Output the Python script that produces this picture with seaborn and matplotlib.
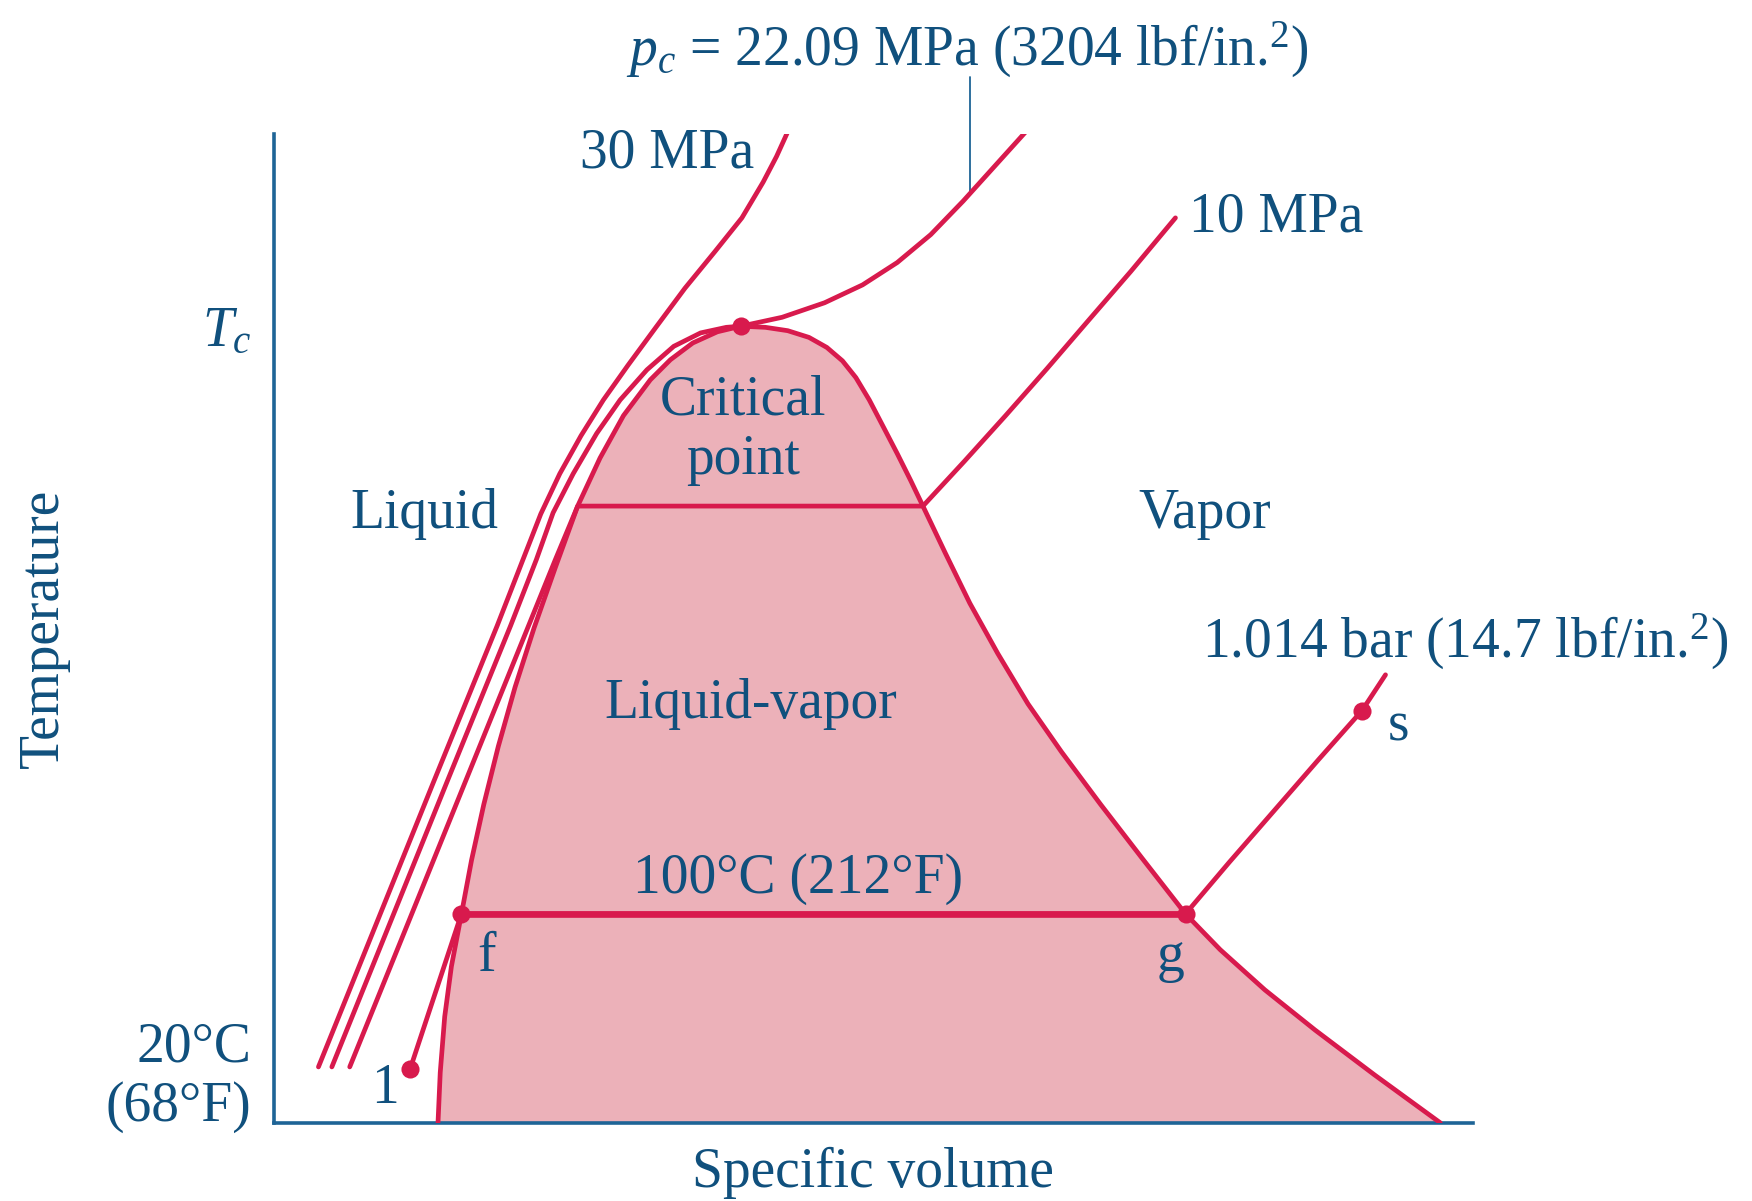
import matplotlib
matplotlib.use('Agg')
import matplotlib.pyplot as plt
import seaborn as sns
import pandas as pd

# schematic units: v = specific volume, T = temperature (no numeric scale on the axes)
# saturated liquid line (bottom -> critical point)
dome_liq_v = [147, 149, 153, 159, 168, 177, 188, 201, 216, 233, 252, 272, 292, 313, 337, 355, 375, 397, 418]
dome_liq_T = [0, 45, 95, 140, 187, 235, 285, 337, 390, 443, 497, 552, 595, 633, 665, 683, 698, 708, 713]
# saturated vapor line (critical point -> bottom)
dome_vap_v = [418, 440, 460, 479, 495, 509, 521, 533, 545, 558, 570, 581, 601, 623, 648, 675, 705,
              740, 777, 816, 847, 887, 932, 985, 1044]
dome_vap_T = [713, 712, 709, 703, 694, 682, 667, 647, 624, 599, 575, 552, 510, 465, 420, 375, 332,
              285, 237, 187, 155, 119, 83, 43, 0]

# isobars
p30_v = [40, 143, 200, 223, 239, 256, 275, 295, 317, 342, 368, 395, 419, 438, 450, 460]
p30_T = [50, 305, 445, 504, 545, 581, 615, 647, 678, 712, 747, 780, 810, 842, 865, 887]
pc_v = [52, 155, 212, 235, 250, 268, 289, 310, 334, 358, 382, 405, 418,
        455, 493, 527, 558, 588, 617, 645, 673]
pc_T = [50, 305, 445, 504, 546, 581, 617, 647, 674, 695, 707, 712, 713,
        721, 734, 750, 770, 795, 825, 856, 887]
p10_v = [68, 252, 272, 581, 618, 655, 692, 729, 767, 807]
p10_T = [50, 504, 552, 552, 592, 633, 675, 718, 762, 810]
p1_v = [122, 168, 816, 855, 895, 935, 974, 995]
p1_T = [48, 187, 187, 233, 279, 325, 369, 401]

# 100 C isotherm inside the dome
t100_v = [168, 816]
t100_T = [187, 187]

# labelled states: 1, f, g, s, critical point
state_names = ['1', 'f', 'g', 's', 'c']
state_v = [122, 168, 816, 974, 418]
state_T = [48, 187, 187, 369, 713]

T_c = 713
T_20 = 50

RED = '#d81a4d'
PINK = '#ecb1b9'
TEXT = '#10507d'
AXIS = '#1e6496'
FS = 40

sns.set_style('white')
plt.rcParams['font.family'] = ['Liberation Serif', 'DejaVu Serif']
plt.rcParams['mathtext.fontset'] = 'custom'
plt.rcParams['mathtext.rm'] = 'Liberation Serif'
plt.rcParams['mathtext.it'] = 'Liberation Serif:italic'

fig = plt.figure(figsize=(17.52, 12.01), dpi=100)
ax = fig.add_axes([0.15625, 0.06512, 0.68431, 0.82326])

# two-phase region
ax.fill(dome_liq_v + dome_vap_v, dome_liq_T + dome_vap_T, color=PINK, lw=0, zorder=1)

curves = [
    (dome_liq_v, dome_liq_T, 3.4),
    (dome_vap_v, dome_vap_T, 3.4),
    (p30_v, p30_T, 3.4),
    (pc_v, pc_T, 3.4),
    (p10_v, p10_T, 3.4),
    (p1_v, p1_T, 3.4),
    (t100_v, t100_T, 4.8),
]
for xs, ys, lw in curves:
    sns.lineplot(x=xs, y=ys, sort=False, estimator=None, color=RED, lw=lw,
                 ax=ax, zorder=3)

states = pd.DataFrame({'name': state_names, 'v': state_v, 'T': state_T})
sns.scatterplot(data=states, x='v', y='T', s=170, color=RED, edgecolor=RED,
                linewidth=0, zorder=5, ax=ax, legend=False)

# leader line for the critical pressure label
ax.plot([623, 623], [832, 936], color=AXIS, lw=1.3, clip_on=False, zorder=2)

ax.set_xlim(0, 1073)
ax.set_ylim(0, 885)
for side in ['top', 'right']:
    ax.spines[side].set_visible(False)
for side in ['left', 'bottom']:
    ax.spines[side].set_color(AXIS)
    ax.spines[side].set_linewidth(2.6)

ax.set_xticks([])
ax.set_yticks([T_20, T_c])
ax.set_yticklabels(['20°C\n(68°F)', '$T_c$'])
ax.tick_params(axis='y', direction='in', length=32, width=1.5, color=AXIS,
               pad=16, labelsize=FS, labelcolor=TEXT)

ax.set_xlabel('Specific volume', fontsize=FS, color=TEXT, va='top')
ax.xaxis.set_label_coords(0.5, -0.024)
ax.set_ylabel('Temperature', fontsize=FS, color=TEXT)
ax.yaxis.set_label_coords(-0.17, 0.5)

labels = [
    (352, 868, '30 MPa'),
    (621, 960, '$p_c$ = 22.09 MPa (3204 lbf/in.$^2$)'),
    (897, 810, '10 MPa'),
    (420, 620, 'Critical\npoint'),
    (135, 545, 'Liquid'),
    (833, 545, 'Vapor'),
    (427, 375, 'Liquid-vapor'),
    (1066, 430, '1.014 bar (14.7 lbf/in.$^2$)'),
    (469, 218, '100°C (212°F)'),
    (100, 30, '1'),
    (190, 148, 'f'),
    (803, 148, 'g'),
    (1007, 355, 's'),
]
for x, y, s in labels:
    ax.text(x, y, s, ha='center', va='center', fontsize=FS, color=TEXT,
            clip_on=False, zorder=6)

fig.savefig('out.png', dpi=100)
